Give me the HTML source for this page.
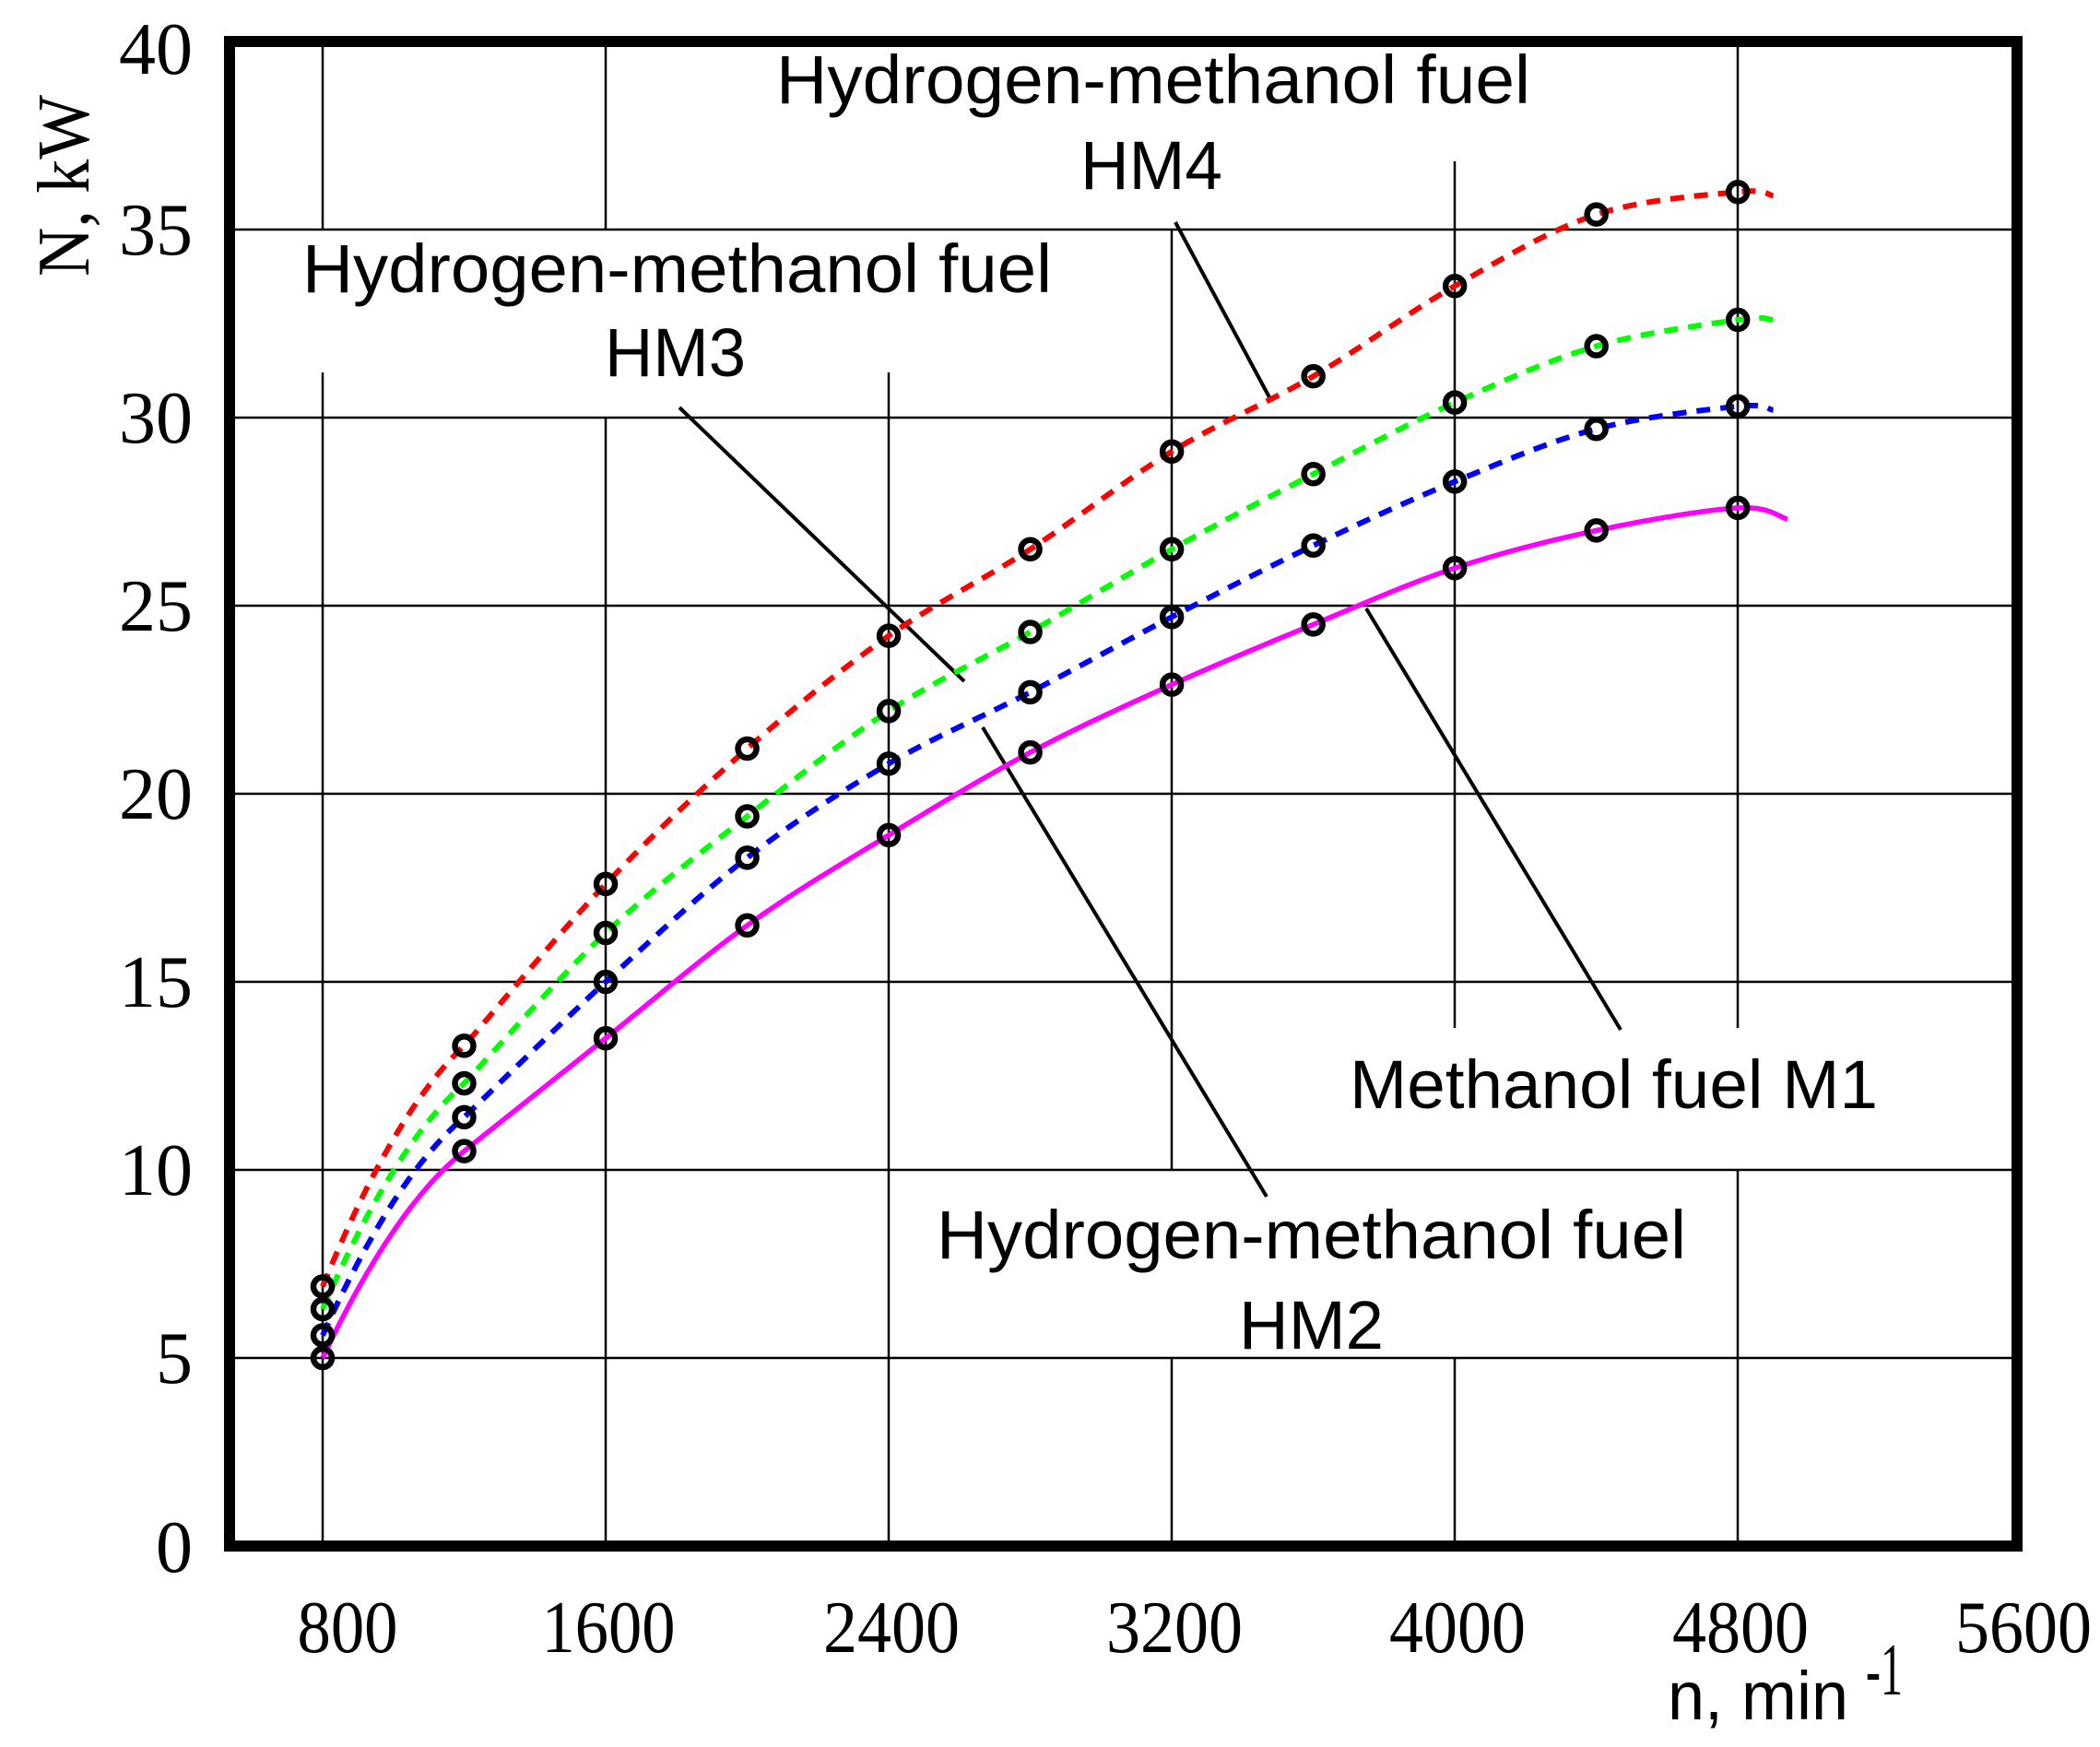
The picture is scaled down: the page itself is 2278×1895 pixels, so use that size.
<!DOCTYPE html>
<html><head><meta charset="utf-8"><style>
html,body{margin:0;padding:0;background:#fff}
svg{display:block}
.tk{font-family:"Liberation Serif",serif;font-size:80px;fill:#000}
.lb{font-family:"Liberation Sans",sans-serif;font-size:74px;fill:#000}
</style></head><body>
<svg id="s" width="2278" height="1895" viewBox="0 0 2278 1895" xmlns="http://www.w3.org/2000/svg">
<rect width="2278" height="1895" fill="#fff"/>
<g stroke="#000" stroke-width="2.5" id="grid">
<line x1="249" y1="249" x2="2188" y2="249"/>
<line x1="249" y1="453" x2="2188" y2="453"/>
<line x1="249" y1="657" x2="2188" y2="657"/>
<line x1="249" y1="861" x2="2188" y2="861"/>
<line x1="249" y1="1065" x2="2188" y2="1065"/>
<line x1="249" y1="1269" x2="2188" y2="1269"/>
<line x1="249" y1="1473" x2="2188" y2="1473"/>
<line x1="350" y1="45" x2="350" y2="249"/><line x1="350" y1="404" x2="350" y2="1677"/>
<line x1="657" y1="45" x2="657" y2="249"/><line x1="657" y1="453" x2="657" y2="1677"/>
<line x1="964" y1="404" x2="964" y2="1677"/>
<line x1="1271" y1="249" x2="1271" y2="1269"/><line x1="1271" y1="1473" x2="1271" y2="1677"/>
<line x1="1578" y1="175" x2="1578" y2="1115"/><line x1="1578" y1="1473" x2="1578" y2="1677"/>
<line x1="1885" y1="45" x2="1885" y2="1115"/><line x1="1885" y1="1269" x2="1885" y2="1677"/>
</g>
<rect x="249" y="45" width="1939" height="1632" fill="none" stroke="#000" stroke-width="12"/>
<g stroke="#000" stroke-width="4" fill="none">
<line x1="1275" y1="241" x2="1377" y2="431"/>
<line x1="737" y1="442" x2="1046" y2="739"/>
<line x1="1066" y1="789" x2="1374" y2="1298"/>
<line x1="1482" y1="660" x2="1758" y2="1117"/>
</g>
<g id="curves"></g>
<g id="marks"></g>
<g class="tk" text-anchor="end">
<text x="209" y="1705">0</text>
<text x="209" y="1500">5</text>
<text x="209" y="1296">10</text>
<text x="209" y="1092">15</text>
<text x="209" y="888">20</text>
<text x="209" y="684">25</text>
<text x="209" y="480">30</text>
<text x="209" y="276">35</text>
<text x="209" y="80">40</text>
</g>
<g class="tk" text-anchor="middle">
<text x="377" y="1792" textLength="109" lengthAdjust="spacingAndGlyphs">800</text>
<text x="660" y="1792" textLength="145" lengthAdjust="spacingAndGlyphs">1600</text>
<text x="967" y="1792" textLength="148" lengthAdjust="spacingAndGlyphs">2400</text>
<text x="1274" y="1792" textLength="148" lengthAdjust="spacingAndGlyphs">3200</text>
<text x="1581" y="1792" textLength="148" lengthAdjust="spacingAndGlyphs">4000</text>
<text x="1888" y="1792" textLength="148" lengthAdjust="spacingAndGlyphs">4800</text>
<text x="2195" y="1792" textLength="148" lengthAdjust="spacingAndGlyphs">5600</text>
</g>
<text class="tk" transform="translate(96,300) rotate(-90)" textLength="197" lengthAdjust="spacingAndGlyphs" font-size="74">N, kW</text>
<text class="lb" x="1809" y="1865" textLength="196" lengthAdjust="spacingAndGlyphs">n, min</text>
<text class="tk" x="2024" y="1838" font-size="48" textLength="40" lengthAdjust="spacingAndGlyphs">-1</text>
<g class="lb">
<text x="842" y="112" textLength="818" lengthAdjust="spacingAndGlyphs">Hydrogen-methanol fuel</text>
<text x="1172" y="205" textLength="154" lengthAdjust="spacingAndGlyphs">HM4</text>
<text x="328" y="317" textLength="813" lengthAdjust="spacingAndGlyphs">Hydrogen-methanol fuel</text>
<text x="656" y="408" textLength="153" lengthAdjust="spacingAndGlyphs">HM3</text>
<text x="1016" y="1365" textLength="813" lengthAdjust="spacingAndGlyphs">Hydrogen-methanol fuel</text>
<text x="1344" y="1463" textLength="157" lengthAdjust="spacingAndGlyphs">HM2</text>
<text x="1464" y="1202" textLength="573" lengthAdjust="spacingAndGlyphs">Methanol fuel M1</text>
</g>
</svg>
<script>
(function(){
var NS="http://www.w3.org/2000/svg";
function X(n){return 350+(n-800)*0.3838;}
function Y(v){return 1677-40.8*v;}
var ns=[800,1200,1600,2000,2400,2800,3200,3600,4000,4400,4800];
var S=[
 {c:"#ff0000",d:[6.9,13.3,17.6,21.2,24.2,26.5,29.1,31.1,33.5,35.4,36.0],e:[4900,35.9],dash:true},
 {c:"#00ff00",d:[6.3,12.3,16.3,19.4,22.2,24.3,26.5,28.5,30.4,31.9,32.6],e:[4900,32.6],dash:true},
 {c:"#0000ff",d:[5.6,11.4,15.0,18.3,20.8,22.7,24.7,26.6,28.3,29.7,30.3],e:[4900,30.2],dash:true},
 {c:"#ff00ff",d:[5.0,10.5,13.5,16.5,18.9,21.1,22.9,24.5,26.0,27.0,27.6],e:[4940,27.3],dash:false}
];
function g(t){return 1.45*t-0.45*t*t;}
var cg=document.getElementById("curves"),mg=document.getElementById("marks");
S.forEach(function(s){
 var a=s.d[0],b=s.d[1];
 var p=[];
 for(var t=0;t<1;t+=0.0625){p.push([X(800+400*t),Y(a+(b-a)*g(t))]);}
 for(var k=1;k<ns.length;k++)p.push([X(ns[k]),Y(s.d[k])]);
 p.push([X(s.e[0]),Y(s.e[1])]);
 var d="M"+p[0][0]+","+p[0][1];
 for(var i=0;i<p.length-1;i++){
  var p0=p[i-1]||p[i],p1=p[i],p2=p[i+1],p3=p[i+2]||p2;
  var c1=[p1[0]+(p2[0]-p0[0])/6,p1[1]+(p2[1]-p0[1])/6];
  var c2=[p2[0]-(p3[0]-p1[0])/6,p2[1]-(p3[1]-p1[1])/6];
  if(i<16){c1=[p1[0]+(p2[0]-p1[0])/3,p1[1]+(p2[1]-p1[1])/3];c2=[p2[0]-(p2[0]-p1[0])/3,p2[1]-(p2[1]-p1[1])/3];}
  d+=" C"+c1[0]+","+c1[1]+" "+c2[0]+","+c2[1]+" "+p2[0]+","+p2[1];
 }
 var e=document.createElementNS(NS,"path");
 e.setAttribute("d",d);e.setAttribute("fill","none");e.setAttribute("stroke",s.c);
 e.setAttribute("stroke-width",s.dash?"6":"5.5");
 e.setAttribute("stroke-linejoin","round");
 if(s.dash)e.setAttribute("stroke-dasharray","15 11");
 cg.appendChild(e);
 ns.forEach(function(n,i){
  var c=document.createElementNS(NS,"circle");
  c.setAttribute("cx",X(n));c.setAttribute("cy",Y(s.d[i]));c.setAttribute("r","10");
  c.setAttribute("fill","none");c.setAttribute("stroke","#000");c.setAttribute("stroke-width","6.5");
  mg.appendChild(c);
 });
});
})();
</script>
</body></html>
